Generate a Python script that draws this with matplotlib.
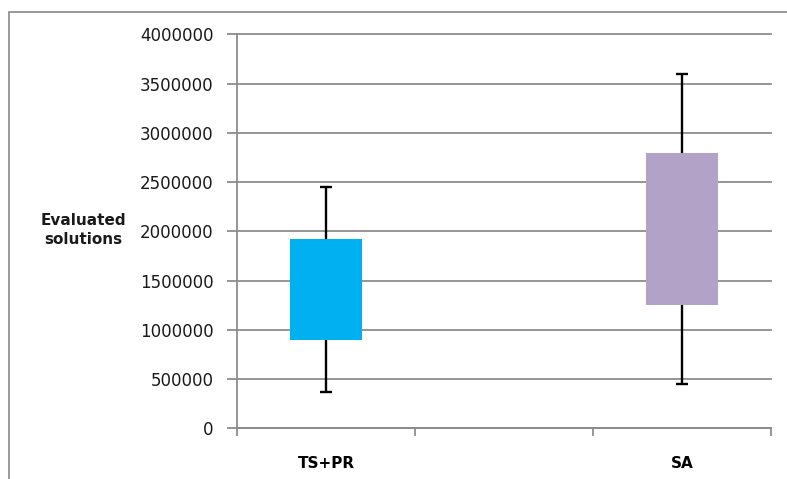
import matplotlib.pyplot as plt
from matplotlib.patches import Rectangle

# data (Excel-style box plot, middle slot empty)
categories = ["TS+PR", "", "SA"]
whisker_low = [370000, None, 450000]
box_low = [900000, None, 1250000]
box_high = [1920000, None, 2800000]
whisker_high = [2450000, None, 3600000]
box_colors = ["#00B0F0", None, "#B2A2C7"]

yticks = [0, 500000, 1000000, 1500000, 2000000, 2500000, 3000000, 3500000, 4000000]

plt.rcParams['font.family'] = ['DejaVu Sans']

fig = plt.figure(figsize=(7.87, 4.79), dpi=100)
ax = fig.add_axes([237 / 787, 1 - 428.3 / 479, (771 - 237) / 787, (428.3 - 34.3) / 479])

grid_col = "#8c8c8c"

for i, cat in enumerate(categories):
    if box_low[i] is None:
        continue
    mid = (box_low[i] + box_high[i]) / 2
    ax.errorbar(i, mid,
                yerr=[[mid - whisker_low[i]], [whisker_high[i] - mid]],
                fmt="none", ecolor="black", elinewidth=1.7, capsize=4,
                capthick=1.7, zorder=2)
    ax.bar(i, box_high[i] - box_low[i], bottom=box_low[i], width=0.4,
           color=box_colors[i], edgecolor="none", zorder=3)

ax.set_ylim(0, 4000000)
ax.set_yticks(yticks)
ax.set_yticklabels([str(v) for v in yticks])
ax.yaxis.grid(True, color=grid_col, linewidth=1.3)
for gl in ax.get_ygridlines():
    gl.set_clip_on(False)
ax.set_axisbelow(True)

# category slots: tick lines at the slot borders, labels in the middle
ax.set_xlim(-0.5, len(categories) - 0.5)
ax.set_xticks([k - 0.5 for k in range(len(categories) + 1)])
ax.set_xticklabels([])
ax.set_xticks(range(len(categories)), minor=True)
ax.set_xticklabels(categories, minor=True, fontweight="bold", fontsize=11)
ax.tick_params(axis="x", which="minor", length=0, pad=20)
ax.tick_params(axis="x", which="major", length=6, color=grid_col, width=1.3)
ax.tick_params(axis="y", length=7, color=grid_col, width=1.3, labelsize=12, pad=10,
               labelcolor="#1a1a1a")

for s in ["top", "right"]:
    ax.spines[s].set_visible(False)
for s in ["left", "bottom"]:
    ax.spines[s].set_color(grid_col)
    ax.spines[s].set_linewidth(1.3)

fig.text(83 / 787, 1 - 230 / 479, "Evaluated\nsolutions", ha="center", va="center",
         fontweight="bold", fontsize=11, linespacing=1.4, color="#1a1a1a")

# outer chart frame (cropped at right and bottom in the reference)
fig.patches.append(Rectangle((9 / 787, -0.1), 1.2, 1 - 12 / 479 + 0.1,
                             transform=fig.transFigure, fill=False,
                             edgecolor="#888888", linewidth=1.2))

fig.savefig("out.png", dpi=100)
